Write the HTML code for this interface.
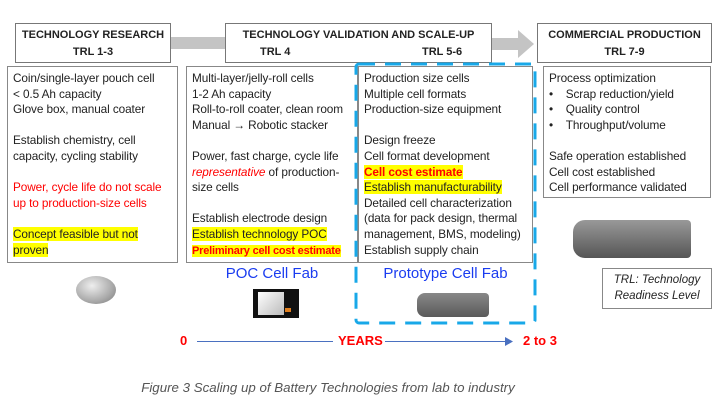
<!DOCTYPE html>
<html><head><meta charset="utf-8"><style>
body{margin:0;width:721px;height:403px;background:#fff;position:relative;overflow:hidden;font-family:"Liberation Sans",sans-serif;color:#222}
.a{position:absolute}
.hd{position:absolute;border:1px solid #777;background:#fff;box-sizing:border-box;font-weight:bold;font-size:11px;color:#222;text-align:center;line-height:17px;padding-top:3px}
.bx{position:absolute;border:1px solid #888;background:#fff;box-sizing:border-box;font-size:11.8px;line-height:15.6px;padding:4px 0 0 5px;white-space:nowrap;letter-spacing:-0.1px}
.r{color:#f00}.y{background:#ff0}
.bl{color:#1a3cf0}
</style></head><body>
<div class="a" style="left:170px;top:37px;width:60px;height:12px;background:#c4c4c4"></div>
<svg class="a" style="left:490px;top:30px" width="45" height="28"><polygon points="0,8 28,8 28,0 44,14 28,28 28,20 0,20" fill="#c4c4c4"/></svg>
<div class="hd" style="left:15px;top:23px;width:156px;height:40px">TECHNOLOGY RESEARCH<br>TRL 1-3</div>
<div class="hd" style="left:225px;top:23px;width:267px;height:40px">TECHNOLOGY VALIDATION AND SCALE-UP<br><span style="position:absolute;left:34px">TRL 4</span><span style="position:absolute;left:196px">TRL 5-6</span></div>
<div class="hd" style="left:537px;top:23px;width:175px;height:40px">COMMERCIAL PRODUCTION<br>TRL 7-9</div>

<div class="bx" style="left:7px;top:66px;width:171px;height:197px">Coin/single-layer pouch cell<br>&lt; 0.5 Ah capacity<br>Glove box, manual coater<br><br>Establish chemistry, cell<br>capacity, cycling stability<br><br><span class="r">Power, cycle life do not scale<br>up to production-size cells</span><br><br><span class="y">Concept feasible but not</span><br><span class="y">proven</span></div>
<div class="bx" style="left:186px;top:66px;width:172px;height:197px">Multi-layer/jelly-roll cells<br>1-2 Ah capacity<br>Roll-to-roll coater, clean room<br>Manual → Robotic stacker<br><br>Power, fast charge, cycle life<br><i class="r">representative</i> of production-<br>size cells<br><br>Establish electrode design<br><span class="y">Establish technology POC</span><br><span class="y r" style="font-weight:bold;font-size:11px;letter-spacing:-0.2px">Preliminary cell cost estimate</span></div>
<div class="bx" style="left:358px;top:66px;width:175px;height:197px">Production size cells<br>Multiple cell formats<br>Production-size equipment<br><br>Design freeze<br>Cell format development<br><span class="y r" style="font-weight:bold">Cell cost estimate</span><br><span class="y">Establish manufacturability</span><br>Detailed cell characterization<br>(data for pack design, thermal<br>management, BMS, modeling)<br>Establish supply chain</div>
<svg class="a" style="left:354px;top:62px" width="184" height="264"><rect x="2" y="2" width="179" height="259" rx="3" fill="none" stroke="#18a8e8" stroke-width="3" stroke-dasharray="16,10"/></svg>
<div class="bx" style="left:543px;top:66px;width:168px;height:132px">Process optimization<br>•&nbsp;&nbsp;&nbsp;&nbsp;Scrap reduction/yield<br>•&nbsp;&nbsp;&nbsp;&nbsp;Quality control<br>•&nbsp;&nbsp;&nbsp;&nbsp;Throughput/volume<br><br>Safe operation established<br>Cell cost established<br>Cell performance validated</div>

<div class="a" style="left:76px;top:276px;width:40px;height:28px;border-radius:50%;background:radial-gradient(ellipse at 40% 35%,#eee,#aaa 60%,#777)"></div>
<div class="a bl" style="left:186px;top:265px;width:172px;text-align:center;font-size:15px">POC Cell Fab</div>
<div class="a" style="left:253px;top:289px;width:46px;height:29px;background:#111"><div class="a" style="left:5px;top:3px;width:26px;height:23px;background:linear-gradient(135deg,#fff,#bbb)"></div><div class="a" style="left:32px;top:19px;width:6px;height:4px;background:#e08020"></div></div>
<div class="a bl" style="left:358px;top:265px;width:175px;text-align:center;font-size:15px">Prototype Cell Fab</div>
<div class="a" style="left:417px;top:293px;width:72px;height:24px;border-radius:8px 4px 4px 8px;background:linear-gradient(#888,#5a5a5a)"></div>
<div class="a" style="left:573px;top:220px;width:118px;height:38px;border-radius:12px 4px 4px 12px;background:linear-gradient(#999,#555)"></div>
<div class="a" style="left:602px;top:268px;width:110px;height:41px;border:1px solid #888;box-sizing:border-box;font-style:italic;font-size:11.5px;text-align:center;line-height:16px;padding-top:3px">TRL: Technology<br>Readiness Level</div>

<div class="a r" style="left:180px;top:333px;font-weight:bold;font-size:13px">0</div>
<div class="a" style="left:197px;top:341px;width:136px;height:1px;background:#4a70c0"></div>
<div class="a r" style="left:338px;top:333px;font-weight:bold;font-size:13px">YEARS</div>
<div class="a" style="left:385px;top:341px;width:122px;height:1px;background:#4a70c0"></div>
<svg class="a" style="left:505px;top:337px" width="9" height="9"><polygon points="0,0 8,4.5 0,9" fill="#4a70c0"/></svg>
<div class="a r" style="left:523px;top:333px;font-weight:bold;font-size:13px">2 to 3</div>
<div class="a" style="left:0;top:380px;width:656px;text-align:center;font-style:italic;font-size:13.3px;color:#555">Figure 3 Scaling up of Battery Technologies from lab to industry</div>
</body></html>
